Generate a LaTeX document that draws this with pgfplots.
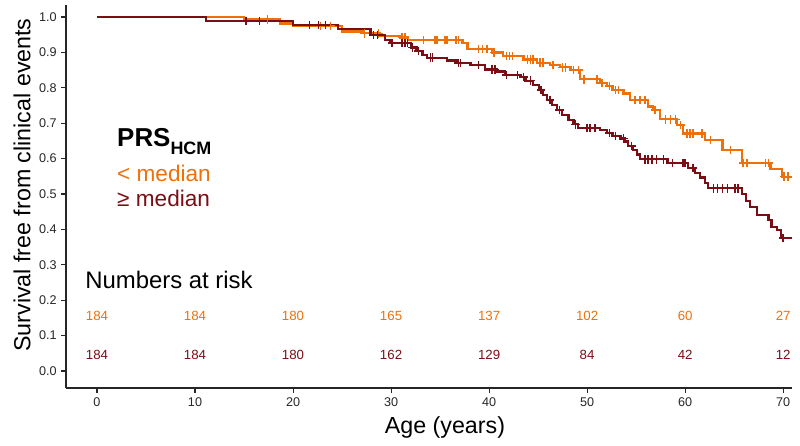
\documentclass[border=0pt]{standalone}
\usepackage{fontspec}
\setmainfont{Liberation Sans}
\usepackage{pgfplots}
\pgfplotsset{compat=1.18}
\usepackage{pgfplotstable}
\definecolor{lowc}{RGB}{238,112,10}
\definecolor{highc}{RGB}{122,14,20}

\pgfplotstableread{
t s c
0 1.000 0
15.0 0.993 0
17.4 0.993 1
18.7 0.982 0
20.0 0.975 0
22.8 0.975 1
23.8 0.975 1
25.0 0.959 0
27.1 0.954 0
27.3 0.954 1
28.7 0.954 1
28.9 0.947 0
30.9 0.942 0
31.1 0.942 1
31.4 0.942 1
31.7 0.935 0
33.3 0.935 1
34.5 0.935 1
34.7 0.935 1
35.5 0.935 1
35.7 0.935 1
36.6 0.935 1
36.9 0.935 1
37.3 0.926 0
37.8 0.910 0
38.9 0.910 1
39.3 0.910 1
39.8 0.910 1
40.3 0.900 0
40.5 0.900 1
41.4 0.890 0
41.8 0.890 1
42.1 0.890 1
42.4 0.890 1
43.5 0.880 0
43.9 0.880 1
44.2 0.880 1
44.5 0.880 1
44.9 0.871 0
45.2 0.871 1
45.5 0.871 1
46.2 0.864 0
46.5 0.864 1
47.2 0.858 0
47.5 0.858 1
47.8 0.858 1
48.3 0.850 0
48.6 0.850 1
49.1 0.850 1
49.3 0.824 0
49.7 0.824 1
51.0 0.824 1
51.3 0.813 0
51.5 0.813 1
52.0 0.805 0
52.3 0.805 1
52.6 0.794 0
52.9 0.794 1
53.2 0.794 1
53.7 0.784 0
54.4 0.766 0
54.9 0.766 1
55.4 0.766 1
55.9 0.766 1
56.2 0.747 0
56.7 0.737 0
56.9 0.737 1
57.4 0.711 0
58.0 0.711 1
58.5 0.711 1
59.0 0.711 1
59.2 0.695 0
59.5 0.695 1
59.8 0.671 0
60.2 0.671 1
60.5 0.671 1
60.8 0.671 1
61.7 0.671 1
62.0 0.653 0
62.6 0.653 1
63.8 0.624 0
64.6 0.624 1
65.8 0.588 0
65.9 0.588 1
66.3 0.588 1
68.2 0.588 1
68.5 0.588 1
68.7 0.570 0
69.9 0.549 0
70.1 0.549 1
70.5 0.549 1
70.9 0.549 0
}\lowtab

\pgfplotstableread{
t s c
0 1.000 0
11.1 0.989 0
15.2 0.989 1
16.6 0.989 1
20.0 0.977 0
21.7 0.977 1
22.6 0.977 1
23.3 0.977 1
24.6 0.966 0
27.9 0.949 0
28.2 0.949 1
28.6 0.949 1
29.4 0.935 0
29.9 0.926 0
30.1 0.926 1
31.1 0.926 1
31.4 0.926 1
31.7 0.926 1
32.0 0.914 0
32.2 0.914 1
32.6 0.904 0
32.8 0.904 1
33.2 0.893 0
33.7 0.885 0
34.0 0.885 1
34.2 0.885 1
35.7 0.877 0
36.7 0.870 0
36.9 0.870 1
37.1 0.870 1
38.1 0.864 0
38.9 0.864 1
39.6 0.852 0
40.3 0.852 1
40.6 0.852 1
40.8 0.846 0
41.6 0.836 0
41.8 0.836 1
42.9 0.836 1
43.2 0.830 0
43.5 0.830 1
43.7 0.820 0
44.2 0.820 1
44.5 0.808 0
45.1 0.794 0
45.3 0.794 1
45.5 0.780 0
45.9 0.766 0
46.2 0.766 1
46.4 0.751 0
46.9 0.737 0
47.2 0.737 1
47.4 0.723 0
48.1 0.709 0
48.6 0.697 0
48.8 0.697 1
49.1 0.686 0
50.0 0.686 1
50.3 0.686 1
50.8 0.686 1
51.3 0.681 0
52.0 0.673 0
52.3 0.673 1
52.6 0.664 0
52.9 0.664 1
53.4 0.657 0
53.7 0.657 1
53.9 0.648 0
54.2 0.636 0
54.5 0.636 1
54.7 0.624 0
55.1 0.612 0
55.4 0.598 0
55.9 0.598 1
56.2 0.598 1
56.6 0.598 1
57.1 0.598 1
57.8 0.598 1
58.2 0.587 0
58.7 0.587 1
59.8 0.587 1
60.0 0.587 1
60.3 0.573 0
60.8 0.573 1
61.0 0.560 0
61.5 0.547 0
62.0 0.532 0
62.3 0.516 0
62.9 0.516 1
63.3 0.516 1
63.8 0.516 1
64.3 0.516 1
65.1 0.516 1
65.4 0.516 1
65.8 0.500 0
66.2 0.480 0
66.6 0.463 0
67.3 0.441 0
68.5 0.427 0
68.8 0.407 0
69.4 0.398 0
69.8 0.376 0
70.0 0.376 1
70.9 0.376 0
}\hightab

\begin{document}
\begin{tikzpicture}
\useasboundingbox (-49.5bp,-43.5bp) rectangle (550.5bp,291bp);
\begin{axis}[
  at={(0,0)}, anchor=south west,
  scale only axis, width=544.5bp, height=287.25bp,
  xmin=-3.16, xmax=70.9, ymin=-0.048, ymax=1.034,
  axis x line*=bottom, axis y line*=left,
  axis line style={line width=1.1bp, black!85},
  tick align=outside, major tick length=3.5bp,
  tick style={line width=0.8bp, black!85},
  xtick={0,10,20,30,40,50,60,70},
  ytick={0,0.1,0.2,0.3,0.4,0.5,0.6,0.7,0.8,0.9,1},
  /pgf/number format/assume math mode=true,
  yticklabel style={/pgf/number format/fixed, /pgf/number format/fixed zerofill, /pgf/number format/precision=1},
  tick label style={font=\fontsize{9.5}{10}\selectfont, text=black!85},
  xlabel={Age (years)}, ylabel={Survival free from clinical events},
  xlabel style={at={(axis description cs:0.522,-0.102)}, anchor=center, font=\fontsize{17.5}{18}\selectfont},
  ylabel style={at={(axis description cs:-0.0606,0.53)}, anchor=center, font=\fontsize{17.5}{18}\selectfont},
  clip=false,
]
\addplot[const plot, color=lowc, line width=1.7bp] table[x=t, y=s] {\lowtab};
\addplot[only marks, mark=+, mark size=3.2bp, color=lowc, mark options={line width=1.1bp}, restrict expr to domain={\thisrow{c}}{0.5:1.5}] table[x=t, y=s] {\lowtab};
\addplot[const plot, color=highc, line width=1.7bp] table[x=t, y=s] {\hightab};
\addplot[only marks, mark=+, mark size=3.2bp, color=highc, mark options={line width=1.1bp}, restrict expr to domain={\thisrow{c}}{0.5:1.5}] table[x=t, y=s] {\hightab};

\node[anchor=base west, inner sep=0, font=\bfseries\fontsize{19.5}{20}\selectfont] at (axis cs:2.04,0.633) {PRS\raisebox{-0.28em}{\fontsize{13.5}{14}\selectfont HCM}};
\node[anchor=base west, inner sep=0, text=lowc, font=\fontsize{17}{18}\selectfont] at (axis cs:2.04,0.534) {< median};
\node[anchor=base west, inner sep=0, text=highc, font=\fontsize{17}{18}\selectfont] at (axis cs:2.04,0.466) {≥ median};
\node[anchor=base west, inner sep=0, font=\fontsize{18}{19}\selectfont] at (axis cs:-1.22,0.232) {Numbers at risk};

\node[text=lowc, font=\fontsize{10}{11}\selectfont] at (axis cs:0,0.155) {184};
\node[text=lowc, font=\fontsize{10}{11}\selectfont] at (axis cs:10,0.155) {184};
\node[text=lowc, font=\fontsize{10}{11}\selectfont] at (axis cs:20,0.155) {180};
\node[text=lowc, font=\fontsize{10}{11}\selectfont] at (axis cs:30,0.155) {165};
\node[text=lowc, font=\fontsize{10}{11}\selectfont] at (axis cs:40,0.155) {137};
\node[text=lowc, font=\fontsize{10}{11}\selectfont] at (axis cs:50,0.155) {102};
\node[text=lowc, font=\fontsize{10}{11}\selectfont] at (axis cs:60,0.155) {60};
\node[text=lowc, font=\fontsize{10}{11}\selectfont] at (axis cs:70,0.155) {27};
\node[text=highc, font=\fontsize{10}{11}\selectfont] at (axis cs:0,0.045) {184};
\node[text=highc, font=\fontsize{10}{11}\selectfont] at (axis cs:10,0.045) {184};
\node[text=highc, font=\fontsize{10}{11}\selectfont] at (axis cs:20,0.045) {180};
\node[text=highc, font=\fontsize{10}{11}\selectfont] at (axis cs:30,0.045) {162};
\node[text=highc, font=\fontsize{10}{11}\selectfont] at (axis cs:40,0.045) {129};
\node[text=highc, font=\fontsize{10}{11}\selectfont] at (axis cs:50,0.045) {84};
\node[text=highc, font=\fontsize{10}{11}\selectfont] at (axis cs:60,0.045) {42};
\node[text=highc, font=\fontsize{10}{11}\selectfont] at (axis cs:70,0.045) {12};
\end{axis}
\end{tikzpicture}
\end{document}
